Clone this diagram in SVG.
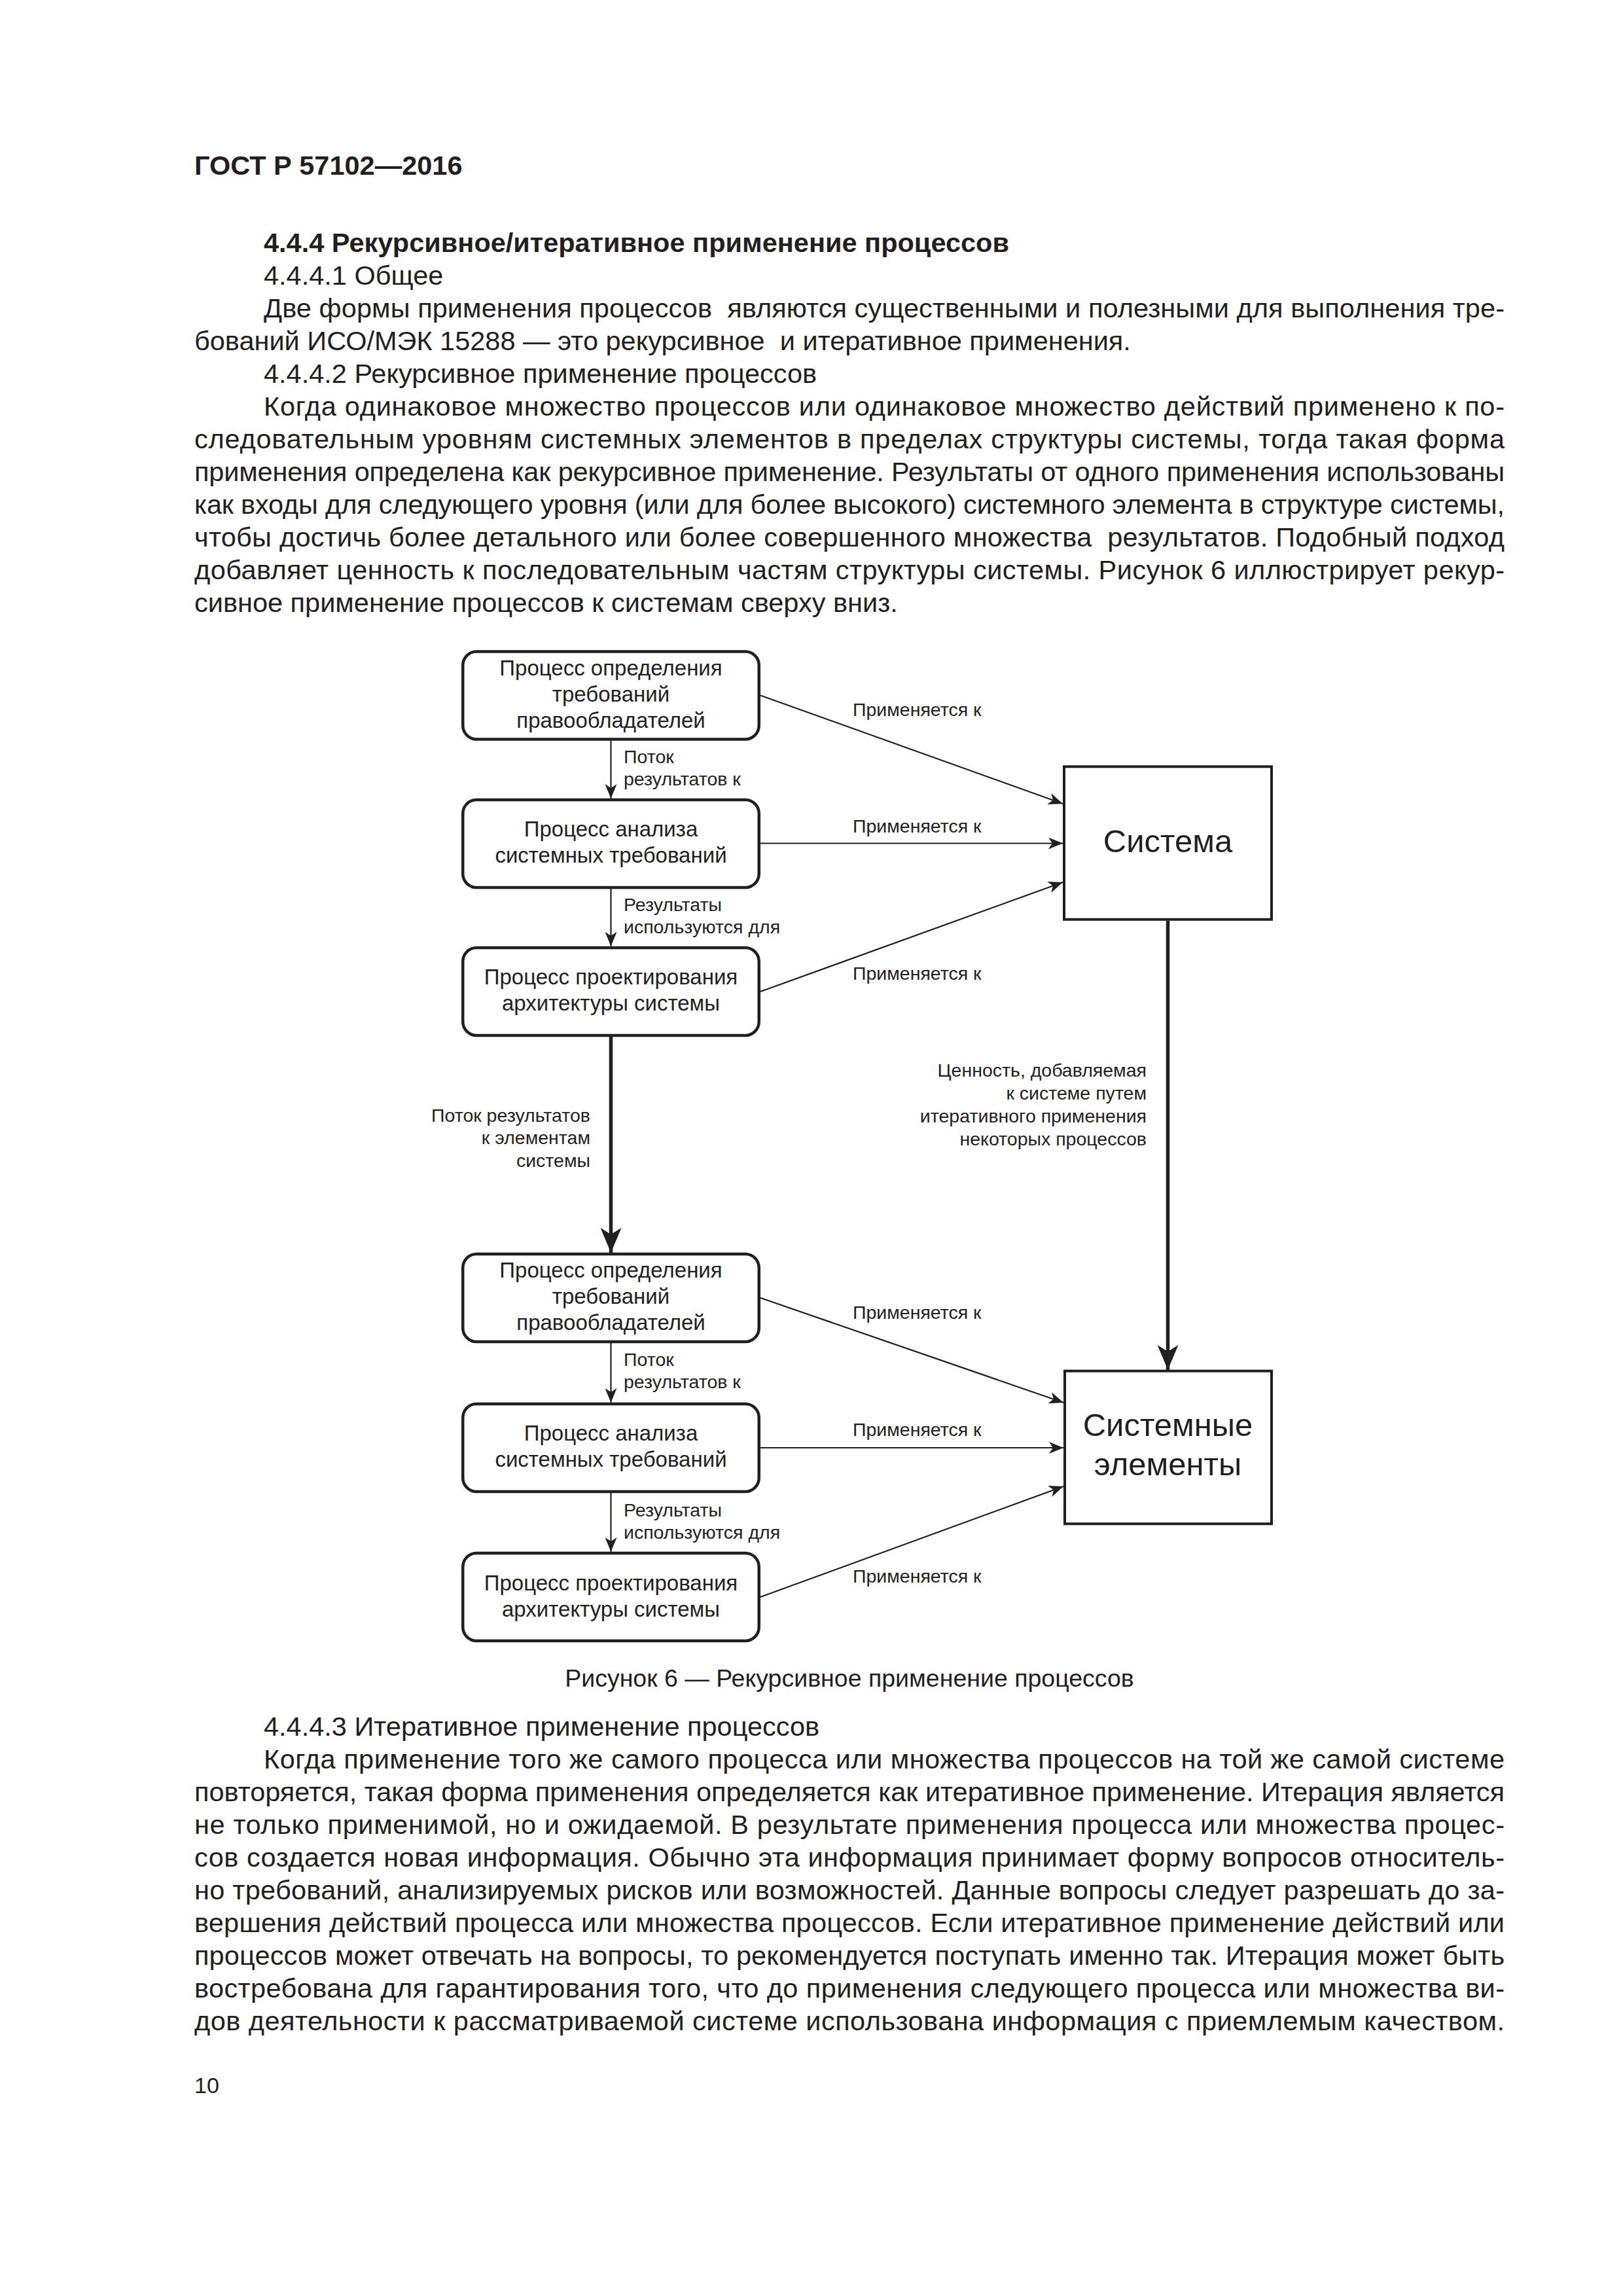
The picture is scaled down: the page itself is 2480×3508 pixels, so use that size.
<svg xmlns="http://www.w3.org/2000/svg" width="2480" height="3508" viewBox="0 0 2480 3508">
<style>
  .t { font-family: "Liberation Sans", Arial, sans-serif; fill: #231f20; }
  .body { font-size: 41.5px; }
  .bold { font-weight: bold; }
  .cap { font-size: 37.5px; }
  .pn { font-size: 34px; }
  .bt { font-size: 33px; text-anchor: middle; }
  .lbl { font-size: 28.5px; }
  .big { font-size: 49px; text-anchor: middle; }
  .rbox { fill: #ffffff; stroke: #231f20; stroke-width: 4.5; }
  .sbox { fill: #ffffff; stroke: #231f20; stroke-width: 4; }
  .thin { fill: none; stroke: #231f20; stroke-width: 2.2; marker-end: url(#ah); }
  .thick { fill: none; stroke: #231f20; stroke-width: 5.5; marker-end: url(#ahb); }
</style>
<defs>
  <marker id="ah" markerUnits="userSpaceOnUse" viewBox="0 0 22 18" refX="22" refY="9" markerWidth="22" markerHeight="18" orient="auto">
    <path d="M0,0 L22,9 L0,18 L6,9 Z" fill="#231f20"/>
  </marker>
  <marker id="ahb" markerUnits="userSpaceOnUse" viewBox="0 0 38 32" refX="38" refY="16" markerWidth="38" markerHeight="32" orient="auto">
    <path d="M0,0 L38,16 L0,32 L10,16 Z" fill="#231f20"/>
  </marker>
</defs>
<rect x="0" y="0" width="2480" height="3508" fill="#ffffff"/>

<g id="page-text" class="t body">
  <text class="t body bold" x="297" y="266.7">ГОСТ Р 57102—2016</text>
  <text class="t body bold" x="403" y="385">4.4.4 Рекурсивное/итеративное применение процессов</text>
  <text x="403" y="435">4.4.4.1 Общее</text>
  <text x="403" y="485" textLength="1896" lengthAdjust="spacing">Две формы применения процессов&#160; являются существенными и полезными для выполнения тре-</text>
  <text x="297" y="535">бований ИСО/МЭК 15288 — это рекурсивное&#160; и итеративное применения.</text>
  <text x="403" y="585">4.4.4.2 Рекурсивное применение процессов</text>
  <text x="403" y="635" textLength="1896" lengthAdjust="spacing">Когда одинаковое множество процессов или одинаковое множество действий применено к по-</text>
  <text x="297" y="685" textLength="2002" lengthAdjust="spacing">следовательным уровням системных элементов в пределах структуры системы, тогда такая форма</text>
  <text x="297" y="735" textLength="2002" lengthAdjust="spacing">применения определена как рекурсивное применение. Результаты от одного применения использованы</text>
  <text x="297" y="785" textLength="2002" lengthAdjust="spacing">как входы для следующего уровня (или для более высокого) системного элемента в структуре системы,</text>
  <text x="297" y="835" textLength="2002" lengthAdjust="spacing">чтобы достичь более детального или более совершенного множества&#160; результатов. Подобный подход</text>
  <text x="297" y="885" textLength="2002" lengthAdjust="spacing">добавляет ценность к последовательным частям структуры системы. Рисунок 6 иллюстрирует рекур-</text>
  <text x="297" y="935">сивное применение процессов к системам сверху вниз.</text>

  <text class="t cap" x="1298" y="2577" text-anchor="middle">Рисунок 6 — Рекурсивное применение процессов</text>

  <text x="403" y="2652">4.4.4.3 Итеративное применение процессов</text>
  <text x="403" y="2702" textLength="1896" lengthAdjust="spacing">Когда применение того же самого процесса или множества процессов на той же самой системе</text>
  <text x="297" y="2752" textLength="2002" lengthAdjust="spacing">повторяется, такая форма применения определяется как итеративное применение. Итерация является</text>
  <text x="297" y="2802" textLength="2002" lengthAdjust="spacing">не только применимой, но и ожидаемой. В результате применения процесса или множества процес-</text>
  <text x="297" y="2852" textLength="2002" lengthAdjust="spacing">сов создается новая информация. Обычно эта информация принимает форму вопросов относитель-</text>
  <text x="297" y="2902" textLength="2002" lengthAdjust="spacing">но требований, анализируемых рисков или возможностей. Данные вопросы следует разрешать до за-</text>
  <text x="297" y="2952" textLength="2002" lengthAdjust="spacing">вершения действий процесса или множества процессов. Если итеративное применение действий или</text>
  <text x="297" y="3002" textLength="2002" lengthAdjust="spacing">процессов может отвечать на вопросы, то рекомендуется поступать именно так. Итерация может быть</text>
  <text x="297" y="3052" textLength="2002" lengthAdjust="spacing">востребована для гарантирования того, что до применения следующего процесса или множества ви-</text>
  <text x="297" y="3102" textLength="2002" lengthAdjust="spacing">дов деятельности к рассматриваемой системе использована информация с приемлемым качеством.</text>

  <text class="t pn" x="297" y="3198">10</text>
</g>

<g id="connectors">
  <line class="thin" x1="1162" y1="1062.5" x2="1624" y2="1228"/>
  <line class="thin" x1="1162" y1="1288.5" x2="1624" y2="1288.5"/>
  <line class="thin" x1="1162" y1="1515" x2="1624" y2="1348"/>
  <line class="thin" x1="1162" y1="1983" x2="1625" y2="2143"/>
  <line class="thin" x1="1162" y1="2212" x2="1625" y2="2212"/>
  <line class="thin" x1="1162" y1="2440" x2="1625" y2="2271"/>
  <line class="thin" x1="933.5" y1="1131.7" x2="933.5" y2="1220"/>
  <line class="thin" x1="933.5" y1="1356" x2="933.5" y2="1445.7"/>
  <line class="thin" x1="933.5" y1="2052" x2="933.5" y2="2143"/>
  <line class="thin" x1="933.5" y1="2280" x2="933.5" y2="2371"/>
  <line class="thick" x1="933.5" y1="1582" x2="933.5" y2="1914"/>
  <line class="thick" x1="1784.5" y1="1407" x2="1784.5" y2="2093"/>

  <g class="t lbl">
    <text x="1303" y="1094">Применяется к</text>
    <text x="1303" y="1272">Применяется к</text>
    <text x="1303" y="1497">Применяется к</text>
    <text x="1303" y="2015">Применяется к</text>
    <text x="1303" y="2194">Применяется к</text>
    <text x="1303" y="2418">Применяется к</text>
    <text x="953" y="1166">Поток</text>
    <text x="953" y="1199.5">результатов к</text>
    <text x="953" y="1392">Результаты</text>
    <text x="953" y="1426">используются для</text>
    <text x="953" y="2087">Поток</text>
    <text x="953" y="2121">результатов к</text>
    <text x="953" y="2317">Результаты</text>
    <text x="953" y="2351">используются для</text>
    <text x="902" y="1714" text-anchor="end">Поток результатов</text>
    <text x="902" y="1748" text-anchor="end">к элементам</text>
    <text x="902" y="1783" text-anchor="end">системы</text>
    <text x="1752" y="1645" text-anchor="end">Ценность, добавляемая</text>
    <text x="1752" y="1680" text-anchor="end">к системе путем</text>
    <text x="1752" y="1715" text-anchor="end">итеративного применения</text>
    <text x="1752" y="1750" text-anchor="end">некоторых процессов</text>
  </g>
</g>

<g id="node-a1">
  <rect class="rbox" x="707.25" y="995.5" width="452.5" height="134" rx="21"/>
  <text class="t bt" x="933.5" y="1031.7">Процесс определения</text>
  <text class="t bt" x="933.5" y="1071.7">требований</text>
  <text class="t bt" x="933.5" y="1111.7">правообладателей</text>
</g>
<g id="node-a2">
  <rect class="rbox" x="707.25" y="1222" width="452.5" height="134" rx="21"/>
  <text class="t bt" x="933.5" y="1278">Процесс анализа</text>
  <text class="t bt" x="933.5" y="1318">системных требований</text>
</g>
<g id="node-a3">
  <rect class="rbox" x="707.25" y="1448" width="452.5" height="134" rx="21"/>
  <text class="t bt" x="933.5" y="1504">Процесс проектирования</text>
  <text class="t bt" x="933.5" y="1544">архитектуры системы</text>
</g>
<g id="node-b1">
  <rect class="rbox" x="707.25" y="1916" width="452.5" height="134" rx="21"/>
  <text class="t bt" x="933.5" y="1952">Процесс определения</text>
  <text class="t bt" x="933.5" y="1992">требований</text>
  <text class="t bt" x="933.5" y="2032">правообладателей</text>
</g>
<g id="node-b2">
  <rect class="rbox" x="707.25" y="2145" width="452.5" height="134" rx="21"/>
  <text class="t bt" x="933.5" y="2201">Процесс анализа</text>
  <text class="t bt" x="933.5" y="2241">системных требований</text>
</g>
<g id="node-b3">
  <rect class="rbox" x="707.25" y="2373" width="452.5" height="134" rx="21"/>
  <text class="t bt" x="933.5" y="2429.5">Процесс проектирования</text>
  <text class="t bt" x="933.5" y="2469.5">архитектуры системы</text>
</g>
<g id="node-system">
  <rect class="sbox" x="1626" y="1171.3" width="317" height="233.5"/>
  <text class="t big" x="1784.5" y="1301.7">Система</text>
</g>
<g id="node-system-elements">
  <rect class="sbox" x="1627" y="2094.7" width="316" height="233.5"/>
  <text class="t big" x="1784.5" y="2194">Системные</text>
  <text class="t big" x="1784.5" y="2254">элементы</text>
</g>
</svg>
